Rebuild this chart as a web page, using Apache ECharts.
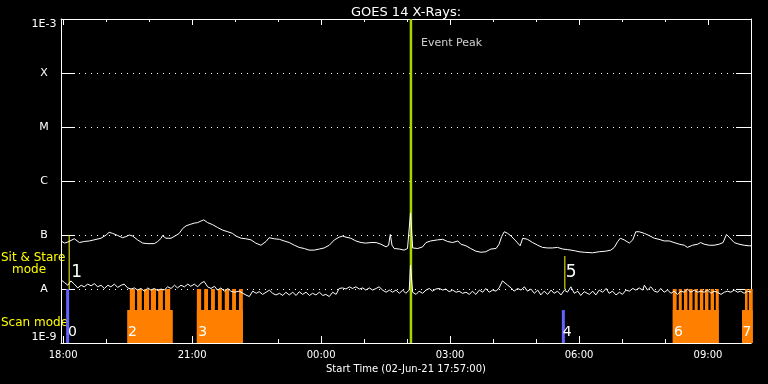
<!DOCTYPE html>
<html><head><meta charset="utf-8">
<script src="https://cdn.jsdelivr.net/npm/echarts@6/dist/echarts.min.js"></script>
<style>html,body{margin:0;padding:0;background:#000;} #c{width:768px;height:384px;}</style>
</head><body><div id="c"></div>
<script>
// time in hours since 00:00 UT 02-Jun-21 (values > 24 are on 03-Jun)
const startHour = 17.95, endHour = 34.0;
const hourTicks = [18,19,20,21,22,23,24,25,26,27,28,29,30,31,32,33,34];
const majorTicks = [18,21,24,27,30,33];
// y values are log10 of flux (W/m^2)
const classLabels = ['1E-9','A','B','C','M','X','1E-3'];
const eventPeakHour = 26.09;

// GOES 1-8 A channel: [hour, log10 flux]
const longChannel = [
[17.95,-7.11],[18.03,-7.15],[18.11,-7.13],[18.26,-7.07],[18.38,-7.14],[18.49,-7.12],[18.61,-7.11],[18.72,-7.09],[18.88,-7.06],[19.00,-7.00],
[19.07,-6.95],[19.15,-6.97],[19.27,-7.01],[19.38,-7.05],[19.46,-7.03],[19.54,-7.00],[19.62,-7.02],[19.73,-7.09],[19.85,-7.15],[19.97,-7.16],
[20.12,-7.16],[20.20,-7.12],[20.28,-7.06],[20.31,-7.01],[20.39,-7.06],[20.51,-7.06],[20.62,-7.01],[20.70,-6.97],[20.78,-6.88],[20.86,-6.83],
[20.97,-6.80],[21.05,-6.78],[21.13,-6.77],[21.21,-6.74],[21.27,-6.72],[21.36,-6.77],[21.48,-6.81],[21.59,-6.86],[21.71,-6.91],[21.83,-6.94],[21.94,-6.97],
[22.02,-7.02],[22.14,-7.06],[22.25,-7.07],[22.37,-7.09],[22.48,-7.15],[22.60,-7.19],[22.72,-7.12],[22.79,-7.05],[22.83,-7.03],[22.91,-7.07],
[23.03,-7.08],[23.14,-7.11],[23.26,-7.14],[23.38,-7.19],[23.49,-7.23],[23.61,-7.25],[23.72,-7.28],[23.84,-7.28],[23.96,-7.26],[24.07,-7.24],
[24.19,-7.19],[24.31,-7.09],[24.42,-7.04],[24.50,-7.02],[24.58,-7.04],[24.69,-7.06],[24.81,-7.11],[24.93,-7.14],[25.04,-7.15],[25.16,-7.14],
[25.28,-7.14],[25.39,-7.17],[25.51,-7.22],[25.57,-7.19],[25.61,-6.99],[25.65,-7.19],[25.70,-7.25],[25.82,-7.26],[25.93,-7.28],[26.01,-7.25],[26.08,-6.59],
[26.13,-7.24],[26.25,-7.25],[26.36,-7.22],[26.44,-7.14],[26.55,-7.11],[26.71,-7.09],[26.83,-7.08],[26.94,-7.12],[27.06,-7.14],[27.18,-7.11],
[27.25,-7.17],[27.37,-7.20],[27.48,-7.25],[27.60,-7.30],[27.72,-7.32],[27.83,-7.31],[27.95,-7.26],[28.07,-7.25],[28.14,-7.17],[28.20,-7.03],
[28.26,-6.94],[28.34,-6.97],[28.42,-7.02],[28.53,-7.11],[28.63,-7.20],[28.69,-7.06],[28.72,-7.03],[28.80,-7.08],[28.92,-7.14],[29.04,-7.19],
[29.15,-7.23],[29.27,-7.24],[29.38,-7.24],[29.50,-7.23],[29.62,-7.26],[29.73,-7.27],[29.89,-7.29],[30.00,-7.31],[30.12,-7.32],
[30.16,-7.34],[30.31,-7.33],[30.47,-7.31],[30.62,-7.30],[30.74,-7.28],[30.82,-7.23],[30.90,-7.12],[30.96,-7.06],[31.05,-7.09],[31.17,-7.15],
[31.25,-7.09],[31.32,-6.94],[31.40,-6.94],[31.52,-6.97],[31.63,-7.01],[31.75,-7.06],[31.86,-7.08],[31.98,-7.11],[32.10,-7.11],[32.21,-7.14],
[32.33,-7.17],[32.45,-7.19],[32.52,-7.23],[32.64,-7.19],[32.76,-7.17],[32.83,-7.14],[32.91,-7.17],[33.03,-7.19],[33.14,-7.19],[33.26,-7.17],
[33.35,-7.14],[33.43,-6.99],[33.49,-7.04],[33.61,-7.14],[33.72,-7.17],[33.84,-7.19],[33.96,-7.20],[34.00,-7.20]
];

// GOES 0.5-4 A channel: [hour, log10 flux]
const shortChannel = [
[17.95,-7.83],[18.03,-7.88],[18.11,-7.93],[18.18,-7.85],[18.26,-7.91],[18.34,-7.98],[18.42,-7.93],[18.49,-7.96],[18.57,-7.91],[18.65,-7.94],
[18.73,-7.90],[18.80,-7.96],[18.88,-7.93],[18.96,-7.99],[19.04,-7.93],[19.11,-7.96],[19.19,-7.91],[19.27,-7.97],[19.35,-7.93],[19.42,-7.91],
[19.50,-7.98],[19.58,-8.00],[19.66,-7.98],[19.73,-8.02],[19.81,-7.99],[19.89,-8.04],[19.97,-7.98],[20.04,-8.02],[20.12,-7.99],[20.20,-8.03],
[20.28,-8.00],[20.35,-8.02],[20.43,-7.96],[20.51,-7.99],[20.59,-7.93],[20.66,-7.98],[20.74,-7.93],[20.82,-7.96],[20.90,-7.91],[20.97,-7.95],
[21.05,-7.91],[21.13,-7.96],[21.21,-7.89],[21.28,-7.86],[21.36,-7.96],[21.44,-7.99],[21.52,-7.95],[21.59,-8.02],[21.67,-7.98],[21.75,-8.04],
[21.83,-7.99],[21.90,-8.04],[21.98,-8.06],
[22.02,-8.06],[22.10,-8.04],[22.18,-8.08],[22.25,-8.11],[22.33,-8.14],[22.41,-8.04],[22.49,-8.08],[22.56,-8.05],[22.64,-8.10],[22.72,-8.06],
[22.80,-8.02],[22.87,-8.08],[22.95,-8.11],[23.03,-8.08],[23.11,-8.12],[23.18,-8.06],[23.26,-8.11],[23.34,-8.06],[23.42,-8.12],[23.49,-8.05],
[23.57,-8.10],[23.65,-8.06],[23.73,-8.12],[23.80,-8.08],[23.88,-8.11],[23.96,-8.06],[24.04,-8.12],[24.11,-8.10],[24.19,-8.14],[24.27,-8.06],
[24.35,-8.10],[24.42,-7.99],[24.50,-7.98],[24.58,-8.00],[24.66,-7.96],[24.73,-7.99],[24.81,-7.96],[24.89,-8.00],[24.97,-7.98],[25.04,-8.02],
[25.12,-7.98],[25.20,-8.02],[25.28,-7.99],[25.35,-7.96],[25.43,-8.02],[25.51,-8.06],[25.59,-8.02],[25.66,-8.06],[25.74,-8.02],[25.82,-8.08],
[25.90,-8.02],[25.97,-8.08],[26.05,-8.02],[26.08,-7.56],
[26.13,-8.06],[26.21,-8.10],[26.28,-8.04],[26.36,-8.08],[26.44,-8.02],[26.52,-7.99],[26.59,-8.04],[26.67,-8.00],[26.75,-7.99],[26.83,-8.02],
[26.90,-8.00],[26.98,-8.05],[27.06,-8.02],[27.14,-8.06],[27.21,-8.04],[27.29,-8.08],[27.37,-8.06],[27.45,-8.10],[27.52,-8.04],[27.60,-8.10],
[27.68,-8.02],[27.76,-8.06],[27.83,-7.99],[27.91,-8.06],[27.99,-8.02],[28.07,-8.04],[28.14,-7.98],[28.22,-7.85],[28.26,-7.86],[28.34,-7.93],
[28.42,-7.98],[28.49,-8.04],[28.57,-7.99],[28.65,-8.02],[28.73,-7.96],[28.80,-8.04],[28.88,-8.00],[28.96,-8.08],[29.04,-8.02],[29.11,-8.11],
[29.19,-8.04],[29.27,-8.10],[29.35,-8.02],[29.42,-8.08],[29.50,-8.04],[29.58,-8.11],[29.66,-8.02],[29.73,-8.06],[29.81,-7.96],[29.89,-8.08],
[29.97,-8.04],[30.04,-8.12],[30.12,-8.05],
[30.16,-8.04],[30.24,-8.10],[30.32,-8.04],[30.39,-8.11],[30.47,-8.02],[30.55,-8.06],[30.63,-7.99],[30.70,-8.08],[30.78,-8.04],[30.86,-8.11],
[30.94,-8.06],[31.01,-8.10],[31.09,-8.02],[31.17,-8.04],[31.25,-7.99],[31.32,-8.02],[31.40,-7.98],[31.48,-8.02],[31.52,-7.93],[31.59,-8.02],
[31.67,-7.96],[31.75,-8.04],[31.83,-8.06],[31.90,-7.99],[31.98,-8.06],[32.06,-8.02],[32.14,-8.08],[32.21,-8.04],[32.29,-8.10],[32.37,-8.04],
[32.45,-8.06],[32.52,-8.00],[32.60,-8.06],[32.68,-8.02],[32.76,-8.06],[32.83,-8.04],[32.91,-8.06],[32.99,-8.02],[33.07,-8.08],[33.14,-8.04],
[33.22,-8.06],[33.30,-8.10],[33.38,-8.06],[33.45,-8.04],[33.53,-8.06],[33.61,-8.02],[33.69,-8.06],[33.76,-8.04],[33.84,-8.08],[33.92,-8.04],[34.00,-8.06]
];

// scan-mode blocks: [start hour, end hour, top level (log10)]
const scanBase = [[19.49,20.55,-8.39],[21.11,22.18,-8.39],[32.18,33.25,-8.39],[33.79,34.04,-8.39]];
const scanTeeth = [
[19.55,19.67,-8.0],[19.72,19.83,-8.0],[19.88,20.00,-8.0],[20.04,20.16,-8.0],[20.21,20.32,-8.0],[20.37,20.49,-8.0],
[21.11,21.21,-8.0],[21.28,21.37,-8.0],[21.44,21.53,-8.0],[21.60,21.69,-8.0],[21.76,21.86,-8.0],[21.93,22.02,-8.0],[22.09,22.18,-8.0],
[32.18,32.27,-8.0],[32.32,32.39,-8.0],[32.44,32.52,-8.0],[32.56,32.64,-8.0],[32.69,32.76,-8.0],[32.81,32.89,-8.0],[32.93,33.01,-8.0],[33.06,33.14,-8.0],[33.18,33.25,-8.0],
[33.86,33.92,-8.0],[33.95,34.04,-8.0]
];
// calibration (blue) blocks: [start, end, top]
const calibBars = [[18.07,18.14,-8.0],[29.60,29.67,-8.39]];
// sit & stare markers: [hour, top, bottom]
const sitStareLines = [[18.14,-7.0,-8.0],[29.67,-7.39,-8.0]];
// mode numbers: [text, hour, level, font size]
const modeLabels = [['0',18.11,-8.81,14],['1',18.19,-7.69,17],['2',19.51,-8.81,14],['3',21.14,-8.81,14],
                    ['4',29.62,-8.81,14],['5',29.69,-7.69,17],['6',32.21,-8.81,14],['7',33.80,-8.81,14]];

const FONT = 'DejaVu Sans';
const chart = echarts.init(document.getElementById('c'), null, {renderer:'canvas'});

function rectSeries(data, color){
  return {
    type:'custom', xAxisIndex:0, yAxisIndex:0, clip:false, silent:true,
    encode:{x:[0,1], y:2},
    data: data,
    renderItem: function(params, api){
      const p0 = api.coord([api.value(0), api.value(2)]);
      const p1 = api.coord([api.value(1), -9]);
      return {type:'rect', shape:{x:p0[0], y:p0[1], width:p1[0]-p0[0], height:p1[1]-p0[1]}, style:{fill:color}};
    }
  };
}
const fmtHour = v => String(Math.round(v) % 24).padStart(2,'0') + ':00';
const axBase = {type:'value', min:startHour, max:endHour, splitLine:{show:false}};

chart.setOption({
  backgroundColor:'#000',
  animation:false,
  textStyle:{fontFamily:FONT},
  title:{text:'GOES 14 X-Rays:', left:401, textAlign:'center', top:1, textStyle:{color:'#fff', fontSize:13, fontWeight:'normal', fontFamily:FONT}},
  grid:{left:61, right:17, top:19, bottom:41},
  xAxis:[
    Object.assign({}, axBase, {position:'bottom', axisLine:{show:true, lineStyle:{color:'#fff', width:1}},
      axisTick:{show:true, inside:true, length:4, customValues:hourTicks, lineStyle:{color:'#fff'}}, axisLabel:{show:false}}),
    Object.assign({}, axBase, {position:'bottom', axisLine:{show:false},
      axisTick:{show:true, inside:true, length:7, customValues:majorTicks, lineStyle:{color:'#fff'}},
      axisLabel:{show:true, customValues:majorTicks, formatter:fmtHour, color:'#fff', fontSize:10, margin:7, fontFamily:FONT},
      name:'Start Time (02-Jun-21 17:57:00)', nameLocation:'middle', nameGap:20,
      nameTextStyle:{color:'#fff', fontSize:10, fontFamily:FONT}}),
    Object.assign({}, axBase, {position:'top', axisLine:{show:true, lineStyle:{color:'#fff', width:1}},
      axisTick:{show:true, inside:true, length:3, customValues:hourTicks, lineStyle:{color:'#fff'}}, axisLabel:{show:false}}),
    Object.assign({}, axBase, {position:'top', axisLine:{show:false},
      axisTick:{show:true, inside:true, length:6, customValues:majorTicks, lineStyle:{color:'#fff'}}, axisLabel:{show:false}})
  ],
  yAxis:[
    {type:'value', position:'left', min:-9, max:-3, interval:1,
      axisLine:{show:true, lineStyle:{color:'#fff', width:1}},
      axisTick:{show:true, inside:true, length:14, lineStyle:{color:'#fff'}},
      axisLabel:{show:true, color:'#fff', fontSize:11, align:'center', margin:17, fontFamily:FONT,
        formatter: v => classLabels[Math.round(v)+9], verticalAlignMinLabel:'bottom', verticalAlignMaxLabel:'top'},
      splitLine:{show:true, lineStyle:{color:'#fff', width:1, type:[1,5]}}},
    {type:'value', position:'right', min:-9, max:-3, interval:1,
      axisLine:{show:true, lineStyle:{color:'#fff', width:1}},
      axisTick:{show:true, inside:true, length:15, lineStyle:{color:'#fff'}},
      axisLabel:{show:false}, splitLine:{show:false}}
  ],
  graphic:[
    {type:'text', left:1, top:252, style:{text:'Sit & Stare', fill:'#ffff00', font:'12px "DejaVu Sans"'}},
    {type:'text', left:12, top:264, style:{text:'mode', fill:'#ffff00', font:'12px "DejaVu Sans"'}},
    {type:'text', left:1, top:317, style:{text:'Scan mode', fill:'#ffff00', font:'12px "DejaVu Sans"'}}
  ],
  series:[
    rectSeries(scanBase, '#ff8000'),
    rectSeries(scanTeeth, '#ff8000'),
    rectSeries(calibBars, '#6464ff'),
    {type:'custom', xAxisIndex:0, yAxisIndex:0, clip:false, silent:true, encode:{x:0, y:[1,2]}, data:sitStareLines,
      renderItem:function(params, api){
        const a = api.coord([api.value(0), api.value(1)]), b = api.coord([api.value(0), api.value(2)]);
        return {type:'line', shape:{x1:a[0], y1:a[1], x2:b[0], y2:b[1]}, style:{stroke:'#ffff00', lineWidth:1}};
      }},
    {type:'line', xAxisIndex:0, yAxisIndex:0, data:[[eventPeakHour,-9],[eventPeakHour,-3]], symbol:'none',
      lineStyle:{color:'#a8d400', width:2.5}, silent:true},
    {type:'line', xAxisIndex:0, yAxisIndex:0, data:shortChannel, symbol:'none', lineStyle:{color:'#fff', width:1}, silent:true},
    {type:'line', xAxisIndex:0, yAxisIndex:0, data:longChannel, symbol:'none', lineStyle:{color:'#fff', width:1}, silent:true},
    {type:'scatter', xAxisIndex:0, yAxisIndex:0, symbolSize:0, silent:true,
      data:[{value:[eventPeakHour,-3.44], name:'Event Peak'}],
      label:{show:true, position:'right', distance:10, formatter:'{b}', color:'#fff', fontSize:11, fontFamily:FONT}},
    {type:'custom', xAxisIndex:0, yAxisIndex:0, clip:false, silent:true, encode:{x:1, y:2}, data:modeLabels,
      renderItem:function(params, api){
        const d = modeLabels[params.dataIndex];
        const p = api.coord([d[1], d[2]]);
        return {type:'text', x:p[0], y:p[1], style:{text:d[0], fill:'#fff', font:d[3]+'px "DejaVu Sans"', verticalAlign:'middle', align:'left'}};
      }}
  ]
});
</script></body></html>
